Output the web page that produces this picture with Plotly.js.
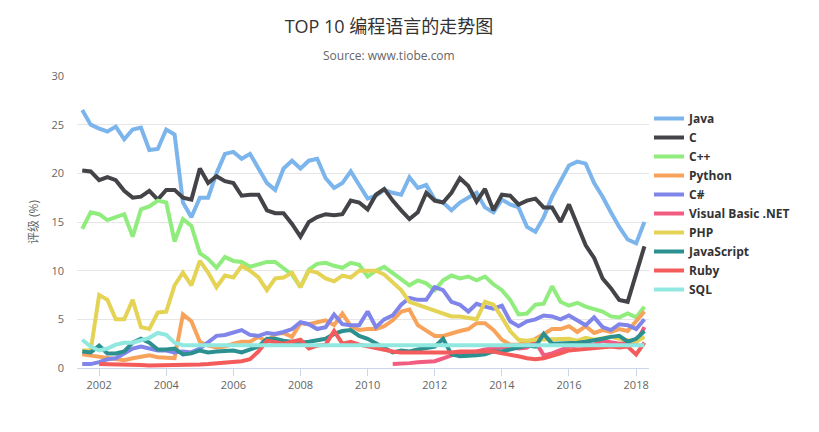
<!DOCTYPE html>
<html><head><meta charset="utf-8">
<script src="https://cdn.plot.ly/plotly-3.0.1.min.js"></script>
<style>html,body{margin:0;padding:0;background:#fff;} #chart{width:819px;height:432px;}</style>
</head><body><div id="chart"></div>
<script>
// Quarterly dates
const dates = ['2001-07','2001-10',
  '2002-01','2002-04','2002-07','2002-10','2003-01','2003-04','2003-07','2003-10',
  '2004-01','2004-04','2004-07','2004-10','2005-01','2005-04','2005-07','2005-10',
  '2006-01','2006-04','2006-07','2006-10','2007-01','2007-04','2007-07','2007-10',
  '2008-01','2008-04','2008-07','2008-10','2009-01','2009-04','2009-07','2009-10',
  '2010-01','2010-04','2010-07','2010-10','2011-01','2011-04','2011-07','2011-10',
  '2012-01','2012-04','2012-07','2012-10','2013-01','2013-04','2013-07','2013-10',
  '2014-01','2014-04','2014-07','2014-10','2015-01','2015-04','2015-07','2015-10',
  '2016-01','2016-04','2016-07','2016-10','2017-01','2017-04','2017-07','2017-10',
  '2018-01','2018-04'];

const seriesNames = ['Java','C','C++','Python','C#','Visual Basic .NET','PHP','JavaScript','Ruby','SQL'];

const java = [26.5,25.0,24.6,24.3,24.8,23.5,24.5,24.7,22.4,22.5,
  24.5,24.0,17.0,15.5,17.5,17.5,20.0,22.0,22.2,21.5,
  22.0,20.5,19.0,18.3,20.5,21.3,20.5,21.3,21.5,19.5,
  18.5,19.0,20.2,18.8,17.4,17.7,18.3,18.0,17.8,19.6,
  18.5,18.8,17.3,17.0,16.2,17.0,17.5,18.0,16.5,16.0,
  17.3,16.8,16.5,14.5,14.0,15.5,17.6,19.3,20.8,21.2,
  21.0,19.0,17.6,16.0,14.5,13.2,12.8,15.0];
const langC = [20.3,20.2,19.3,19.6,19.3,18.2,17.5,17.6,18.2,17.3,
  18.3,18.3,17.5,17.3,20.5,19.0,19.7,19.2,19.0,17.7,
  17.8,17.8,16.2,15.9,15.9,14.8,13.5,15.0,15.5,15.8,
  15.7,15.8,17.2,17.0,16.3,17.8,18.4,17.2,16.2,15.3,
  16.0,18.0,17.2,17.0,18.0,19.5,18.7,17.1,18.4,16.2,
  17.8,17.7,16.8,17.2,17.4,16.5,16.5,15.0,16.8,14.6,
  12.6,11.3,9.2,8.2,7.0,6.8,9.8,12.5];
const cpp = [14.3,16.0,15.8,15.2,15.5,15.8,13.5,16.3,16.6,17.2,
  17.0,13.0,15.3,14.6,11.8,11.2,10.3,11.4,11.0,10.9,
  10.4,10.6,10.9,10.9,10.2,9.6,8.3,10.1,10.7,10.8,
  10.5,10.3,10.8,10.6,9.4,10.0,10.4,9.8,9.2,8.5,
  9.0,8.7,8.0,9.0,9.5,9.2,9.4,9.0,9.4,8.6,
  8.0,7.0,5.5,5.6,6.5,6.6,8.4,6.8,6.4,6.7,
  6.3,6.0,5.8,5.3,5.2,5.6,5.2,6.3];
const python = [1.4,1.3,1.1,1.0,1.0,0.8,1.0,1.2,1.3,1.1,
  1.0,1.0,5.5,4.8,2.7,2.3,2.1,2.2,2.5,2.7,
  2.7,3.2,2.7,3.5,3.6,3.2,4.6,4.5,4.7,4.9,
  4.4,5.6,4.3,3.9,4.0,4.0,4.3,4.9,5.8,6.0,
  4.4,3.8,3.3,3.3,3.6,3.8,4.0,4.6,4.6,3.9,
  2.9,2.4,2.4,2.7,3.0,3.5,4.0,4.0,4.3,3.7,
  4.3,3.6,3.9,3.7,4.0,3.8,4.8,5.8];
const csharp = [0.4,0.4,0.6,0.9,1.0,1.5,2.0,2.2,2.0,1.8,
  1.8,1.6,1.7,1.6,2.0,2.7,3.3,3.4,3.6,3.9,
  3.4,3.3,3.6,3.5,3.7,4.0,4.7,4.5,4.0,4.2,
  5.5,4.5,4.4,4.4,5.8,4.2,5.0,5.4,6.5,7.2,
  7.0,7.0,8.3,8.0,6.8,6.5,5.8,6.6,6.3,6.1,
  6.4,4.8,4.3,4.8,5.0,5.4,5.3,5.0,5.4,4.9,
  4.4,5.2,4.2,3.9,4.5,4.4,4.0,5.0];
const vbnet = [null,null,null,null,null,null,null,null,null,null,
  null,null,null,null,null,null,null,null,null,null,
  null,null,null,null,null,null,null,null,null,null,
  null,null,null,null,null,null,null,0.4,0.4,0.5,
  0.6,0.7,0.7,1.0,1.3,1.4,1.5,1.7,1.9,2.0,
  2.0,2.2,2.0,2.1,2.7,1.3,1.5,1.8,2.2,2.3,
  2.3,2.4,2.8,2.6,2.5,2.6,2.6,4.2];
const php = [1.8,1.8,7.5,7.0,5.0,5.0,7.0,4.2,4.0,5.7,
  5.8,8.5,9.8,8.5,11.0,9.8,8.3,9.5,9.3,10.5,
  10.0,9.3,8.0,9.2,9.3,9.8,8.3,10.0,9.8,9.2,
  8.9,9.5,9.3,10.0,10.0,10.0,9.6,8.8,8.0,6.8,
  6.5,6.3,6.0,5.7,5.3,5.3,5.2,5.0,6.8,6.5,
  5.2,3.8,2.9,2.8,2.9,2.9,3.0,2.9,3.0,2.8,
  3.1,2.9,3.1,3.2,3.0,2.9,2.7,3.2];
const javascript = [1.7,1.6,2.3,1.5,1.5,1.7,2.6,3.0,2.6,1.9,
  1.9,2.0,1.4,1.5,1.8,1.6,1.7,1.8,1.8,1.6,
  1.9,2.2,3.0,3.0,2.8,2.7,2.6,2.7,2.8,3.0,
  3.5,3.8,3.9,3.3,3.0,2.5,2.0,1.6,1.8,1.7,
  1.9,2.0,2.2,3.0,1.4,1.2,1.2,1.3,1.4,1.7,
  1.7,1.9,2.0,2.3,2.2,3.5,2.5,2.5,2.6,2.6,
  2.7,2.8,3.0,3.2,3.3,2.7,3.0,3.8];
const ruby = [null,null,0.4,0.4,0.3,0.3,0.3,0.3,0.25,0.25,
  0.3,0.3,0.3,0.35,0.35,0.4,0.45,0.5,0.6,0.7,
  0.9,1.7,2.8,2.7,2.5,2.7,2.9,2.0,2.3,2.4,
  3.8,2.5,2.7,2.4,2.2,2.0,1.9,1.7,1.6,1.6,
  1.5,1.5,1.5,1.6,1.6,1.7,1.7,1.8,1.8,1.7,
  1.5,1.3,1.2,1.0,0.9,1.0,1.2,1.5,1.8,1.9,
  2.0,2.0,2.1,2.2,2.1,2.2,1.4,2.6];
const sql = [2.9,2.2,1.8,2.0,2.4,2.6,2.6,2.8,3.1,3.6,
  3.4,2.6,2.35,2.35,2.35,2.35,2.35,2.35,2.35,2.35,
  2.35,2.35,2.35,2.35,2.35,2.35,2.35,2.35,2.35,2.35,
  2.35,2.35,2.35,2.35,2.35,2.35,2.35,2.35,2.35,2.35,
  2.35,2.35,2.35,2.35,2.35,2.35,2.35,2.35,2.35,2.35,
  2.35,2.35,2.35,2.35,2.35,2.35,2.35,2.35,2.35,2.35,
  2.35,2.35,2.35,2.35,2.35,2.35,2.35,2.35];

const seriesValues = [java, langC, cpp, python, csharp, vbnet, php, javascript, ruby, sql];
const seriesColors = ['#7cb5ec','#434348','#90ed7d','#f7a35c','#8085e9','#f15c80','#e4d354','#2b908f','#f45b5b','#91e8e1'];

const FONT = '"Open Sans", "Noto Sans CJK SC", sans-serif';

const traces = seriesNames.map((name, k) => ({
  type: 'scatter', mode: 'lines', name: name,
  x: dates, y: seriesValues[k],
  line: {color: seriesColors[k], width: 4},
  connectgaps: false
}));

const layout = {
  width: 819, height: 432,
  margin: {l: 77, r: 170, t: 76, b: 64},
  paper_bgcolor: '#ffffff', plot_bgcolor: '#ffffff',
  font: {family: FONT, color: '#666666', size: 11},
  showlegend: true,
  hovermode: false,
  title: {
    text: 'TOP 10 编程语言的走势图',
    font: {family: FONT, size: 18, color: '#333333'},
    xref: 'container', x: 389/819, xanchor: 'center',
    yref: 'container', y: 1 - 27/432, yanchor: 'middle'
  },
  annotations: [{
    text: 'Source: www.tiobe.com', showarrow: false,
    xref: 'paper', x: (389-77)/572, xanchor: 'center',
    yref: 'paper', y: 1 + (76-55)/292, yanchor: 'middle',
    font: {family: FONT, size: 12, color: '#666666'}
  }],
  xaxis: {
    type: 'date',
    range: ['2001-05-05', '2018-05-21'],
    tickmode: 'linear', tick0: '2002-01-01', dtick: 'M24', tickformat: '%Y',
    showgrid: false, zeroline: false,
    showline: true, linecolor: '#ccd6eb', linewidth: 1,
    ticks: 'outside', ticklen: 7, tickcolor: '#ccd6eb', tickwidth: 1,
    tickfont: {family: FONT, size: 11, color: '#666666'}
  },
  yaxis: {
    range: [0, 30], tickmode: 'linear', tick0: 0, dtick: 5,
    showgrid: true, gridcolor: '#e6e6e6', gridwidth: 1,
    zeroline: false, showline: false, ticks: '',
    ticklabelstandoff: 12,
    tickfont: {family: FONT, size: 11, color: '#666666'},
    title: {text: '评级 (%)', standoff: 10, font: {family: FONT, size: 12, color: '#666666'}}
  },
  legend: {
    x: 1.0, xanchor: 'left', y: (368-204)/292, yanchor: 'middle',
    font: {family: FONT, size: 12, color: '#333333', weight: 'bold'},
    bgcolor: 'rgba(0,0,0,0)', borderwidth: 0,
    itemwidth: 30, traceorder: 'normal'
  }
};

Plotly.newPlot('chart', traces, layout, {displayModeBar: false, staticPlot: true});
</script>
</body></html>
